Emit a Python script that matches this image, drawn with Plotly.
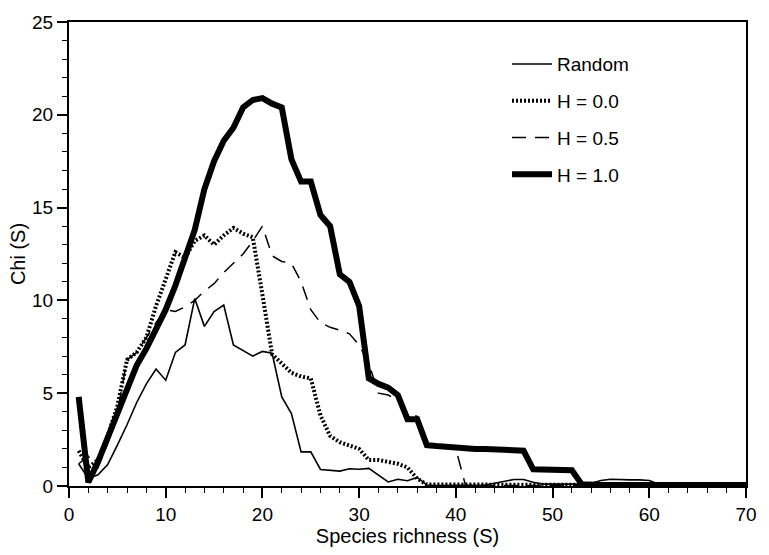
import plotly.graph_objects as go

S = list(range(1, 71))

random_chi = [1.2, 0.4, 0.6, 1.15, 2.2, 3.3, 4.5, 5.5, 6.3, 5.7,
              7.2, 7.6, 10.1, 8.6, 9.4, 9.75, 7.6, 7.3, 7.0, 7.25,
              7.15, 4.8, 3.9, 1.84, 1.84, 0.89, 0.85, 0.8, 0.93, 0.9,
              0.95, 0.6, 0.22, 0.36, 0.28, 0.46, 0.05, 0.03, 0.03, 0.03,
              0.03, 0.03, 0.05, 0.15, 0.25, 0.35, 0.35, 0.2, 0.1, 0.1,
              0.1, 0.1, 0.1, 0.15, 0.3, 0.36, 0.33, 0.33, 0.33, 0.3,
              0.1, 0.1, 0.1, 0.1, 0.1, 0.12, 0.15, 0.03, 0.03, 0.03]

h00_chi = [1.9, 1.0, 1.4, 2.7, 4.3, 6.8, 7.2, 8.0, 9.7, 11.2,
           12.6, 12.3, 13.2, 13.5, 13.0, 13.5, 13.9, 13.6, 13.4, 10.3,
           7.1, 6.6, 6.1, 5.9, 5.8, 3.8, 2.7, 2.36, 2.2, 2.0,
           1.4, 1.4, 1.3, 1.2, 1.0, 0.4, 0.08, 0.08, 0.08, 0.08,
           0.08, 0.08, 0.08, 0.08, 0.08, 0.08, 0.08, 0.08, 0.08, 0.08,
           0.08, 0.08, 0.08, 0.05, 0.05, 0.05, 0.05, 0.05, 0.05, 0.05,
           0.05, 0.05, 0.05, 0.05, 0.05, 0.05, 0.05, 0.05, 0.05, 0.05]

h05_chi = [1.2, 1.6, 1.0, 2.3, 4.0, 6.8, 7.2, 8.0, 8.8, 9.5,
           9.4, 9.65, 10.0, 10.5, 10.9, 11.5, 12.0, 12.5, 13.2, 14.0,
           12.4, 12.1, 12.0, 11.0, 9.5, 8.8, 8.55, 8.4, 8.2, 7.6,
           6.6, 5.0, 4.9, 4.6, 3.9, 3.75, 2.2, 2.15, 2.1, 2.0,
           0.03, 0.03, 0.03, 0.03, 0.03, 0.03, 0.03, 0.03, 0.03, 0.03,
           0.03, 0.03, 0.03, 0.03, 0.03, 0.03, 0.03, 0.03, 0.03, 0.03,
           0.03, 0.03, 0.03, 0.03, 0.03, 0.03, 0.03, 0.03, 0.03, 0.03]

h10_chi = [4.8, 0.2, 1.3, 2.5, 3.9, 5.2, 6.5, 7.4, 8.5, 9.5,
           10.8, 12.2, 13.8, 16.0, 17.5, 18.6, 19.3, 20.4, 20.8, 20.9,
           20.6, 20.4, 17.6, 16.4, 16.4, 14.6, 14.0, 11.4, 11.0, 9.7,
           5.8, 5.5, 5.3, 4.9, 3.6, 3.6, 2.2, 2.15, 2.1, 2.05,
           2.0, 2.0, 2.0, 1.98, 1.95, 1.93, 1.9, 0.9, 0.9, 0.88,
           0.87, 0.85, 0.1, 0.05, 0.05, 0.05, 0.05, 0.05, 0.05, 0.05,
           0.05, 0.05, 0.05, 0.05, 0.05, 0.05, 0.05, 0.05, 0.05, 0.05]

FONT = "Liberation Sans, Arial, Helvetica, sans-serif"

fig = go.Figure()
fig.add_trace(go.Scatter(x=S, y=random_chi, mode="lines", name="Random",
                         legendgroup="a",
                         line=dict(color="black", width=1.6)))
fig.add_trace(go.Scatter(x=S, y=h00_chi, mode="lines", name="H = 0.0",
                         legendgroup="b",
                         line=dict(color="black", width=4, dash="2px,2px")))
fig.add_trace(go.Scatter(x=S, y=h05_chi, mode="lines", name="H = 0.5",
                         legendgroup="c",
                         line=dict(color="black", width=1.5, dash="14px,9px")))
fig.add_trace(go.Scatter(x=S, y=h10_chi, mode="lines", name="H = 1.0",
                         legendgroup="d",
                         line=dict(color="black", width=6)))

axis_common = dict(
    showline=True, linecolor="black", linewidth=2, mirror=True,
    ticks="outside", ticklen=10, tickwidth=1.5, tickcolor="black",
    showgrid=False, zeroline=False,
    tickfont=dict(family=FONT, size=19, color="black"),
)

fig.update_xaxes(range=[0, 70], dtick=10, tick0=0,
                 minor=dict(dtick=2, ticks="outside", ticklen=5,
                            tickwidth=1.2, tickcolor="black"),
                 title=dict(text="Species richness (S)",
                            font=dict(family=FONT, size=20, color="black"),
                            standoff=4),
                 **axis_common)
fig.update_yaxes(range=[0, 25], dtick=5, tick0=0,
                 minor=dict(dtick=1, ticks="outside", ticklen=5,
                            tickwidth=1.2, tickcolor="black"),
                 title=dict(text="Chi (S)",
                            font=dict(family=FONT, size=20, color="black"),
                            standoff=1),
                 **axis_common)

fig.update_layout(
    width=769, height=555,
    margin=dict(l=69, r=14, t=17, b=58),
    paper_bgcolor="white", plot_bgcolor="white",
    showlegend=True,
    legend=dict(x=0.647, y=0.95, xanchor="left", yanchor="top",
                font=dict(family=FONT, size=19, color="black"),
                bgcolor="rgba(0,0,0,0)", tracegroupgap=9,
                itemwidth=40),
)

fig.write_html("out.html")
